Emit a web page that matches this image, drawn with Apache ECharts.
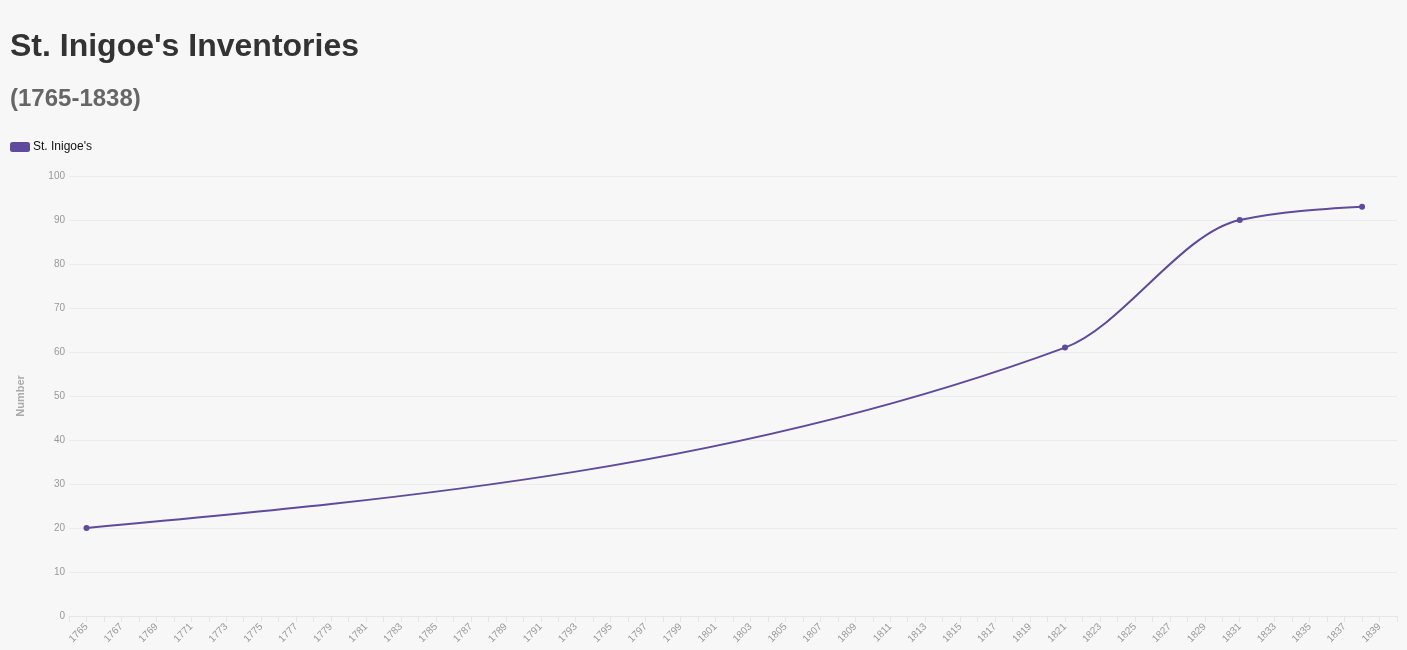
<!DOCTYPE html>
<html>
<head>
<meta charset="utf-8">
<script src="https://cdn.jsdelivr.net/npm/echarts@6/dist/echarts.min.js"></script>
<style>
html,body{margin:0;padding:0;background:#f7f7f7;}
#chart{width:1407px;height:650px;}
</style>
</head>
<body>
<div id="chart"></div>
<script>
const years = [1765, 1821, 1831, 1838];
const counts = [20, 61, 90, 93];
const seriesName = "St. Inigoe's";
const titleText = "St. Inigoe's Inventories";
const subtitleText = "(1765-1838)";
const yTicks = [0, 10, 20, 30, 40, 50, 60, 70, 80, 90, 100];
const xMin = 1764, xMax = 1840;

const COLOR = '#5f4a9b';
const FONT = '"Liberation Sans", Arial, Helvetica, sans-serif';

// Monotone-X cubic tangents (same rule as d3.curveMonotoneX), on the data values
function monotoneTangents(xs, ys) {
  const n = xs.length, m = new Array(n).fill(0);
  const sign = v => (v < 0 ? -1 : 1);
  for (let k = 1; k < n - 1; k++) {
    const h0 = xs[k] - xs[k - 1], h1 = xs[k + 1] - xs[k];
    const s0 = (ys[k] - ys[k - 1]) / h0, s1 = (ys[k + 1] - ys[k]) / h1;
    const p = (s0 * h1 + s1 * h0) / (h0 + h1);
    m[k] = (sign(s0) + sign(s1)) * Math.min(Math.abs(s0), Math.abs(s1), 0.5 * Math.abs(p)) || 0;
  }
  if (n > 2) {
    const h0 = xs[1] - xs[0];
    m[0] = (3 * (ys[1] - ys[0]) / h0 - m[1]) / 2;
    const hl = xs[n - 1] - xs[n - 2];
    m[n - 1] = (3 * (ys[n - 1] - ys[n - 2]) / hl - m[n - 2]) / 2;
  } else if (n === 2) {
    m[0] = m[1] = (ys[1] - ys[0]) / (xs[1] - xs[0]);
  }
  return m;
}

function buildPath(api) {
  const m = monotoneTangents(years, counts);
  const p0 = api.coord([years[0], counts[0]]);
  let path = 'M' + p0[0] + ' ' + p0[1];
  for (let k = 0; k < years.length - 1; k++) {
    const h = (years[k + 1] - years[k]) / 3;
    const c1 = api.coord([years[k] + h, counts[k] + h * m[k]]);
    const c2 = api.coord([years[k + 1] - h, counts[k + 1] - h * m[k + 1]]);
    const p = api.coord([years[k + 1], counts[k + 1]]);
    path += ' C' + c1[0] + ' ' + c1[1] + ' ' + c2[0] + ' ' + c2[1] + ' ' + p[0] + ' ' + p[1];
  }
  return path;
}

const chart = echarts.init(document.getElementById('chart'), null, {renderer: 'canvas'});
const option = {
  backgroundColor: '#f7f7f7',
  animation: false,
  title: [
    {text: titleText, left: 10, top: 31, padding: 0,
     textStyle: {fontFamily: FONT, fontSize: 32, fontWeight: 'bold', color: '#333'}},
    {text: subtitleText, left: 10, top: 87, padding: 0,
     textStyle: {fontFamily: FONT, fontSize: 24, fontWeight: 'bold', color: '#666'}}
  ],
  legend: {
    left: 10, top: 141, padding: 0, itemWidth: 20, itemHeight: 10, itemGap: 10,
    icon: 'roundRect',
    textStyle: {fontFamily: FONT, fontSize: 12, color: '#111', padding: [0,0,0,-2]},
    data: [{name: seriesName, itemStyle: {color: COLOR}}]
  },
  grid: {left: 69, right: 10, top: 176, bottom: 34, containLabel: false},
  xAxis: {
    type: 'value', min: xMin, max: xMax, interval: 1,
    axisLine: {show: true, lineStyle: {color: '#e6e6e6'}},
    axisTick: {show: true, length: 6, lineStyle: {color: '#e6e6e6'}},
    splitLine: {show: false},
    axisLabel: {
      rotate: 45, fontFamily: FONT, fontSize: 10, color: '#999', margin: 9,
      showMinLabel: true, showMaxLabel: true, hideOverlap: false,
      formatter: v => (v % 2 === 1 ? String(v) : '')
    }
  },
  yAxis: {
    type: 'value', min: yTicks[0], max: yTicks[yTicks.length - 1], interval: 10,
    name: 'Number', nameLocation: 'middle', nameGap: 43, nameRotate: 90,
    nameTextStyle: {fontFamily: FONT, fontSize: 11, fontWeight: 'bold', color: '#aaa'},
    axisLine: {show: false}, axisTick: {show: false},
    splitLine: {show: true, lineStyle: {color: '#ebebeb', width: 1}},
    axisLabel: {fontFamily: FONT, fontSize: 10, color: '#999', margin: 4}
  },
  series: [{
    name: seriesName, type: 'custom',
    data: years.map((y, i) => [y, counts[i]]),
    encode: {x: 0, y: 1},
    itemStyle: {color: COLOR},
    renderItem: (params, api) => {
      const i = params.dataIndex;
      const pt = api.coord([api.value(0), api.value(1)]);
      const children = [];
      if (i === 0) {
        children.push({type: 'path', shape: {pathData: buildPath(api)},
          style: {fill: 'none', stroke: COLOR, lineWidth: 2}});
      }
      children.push({type: 'circle', shape: {cx: pt[0], cy: pt[1], r: 3}, style: {fill: COLOR}, z2: 10});
      return {type: 'group', children};
    }
  }]
};
chart.setOption(option);
</script>
</body>
</html>
